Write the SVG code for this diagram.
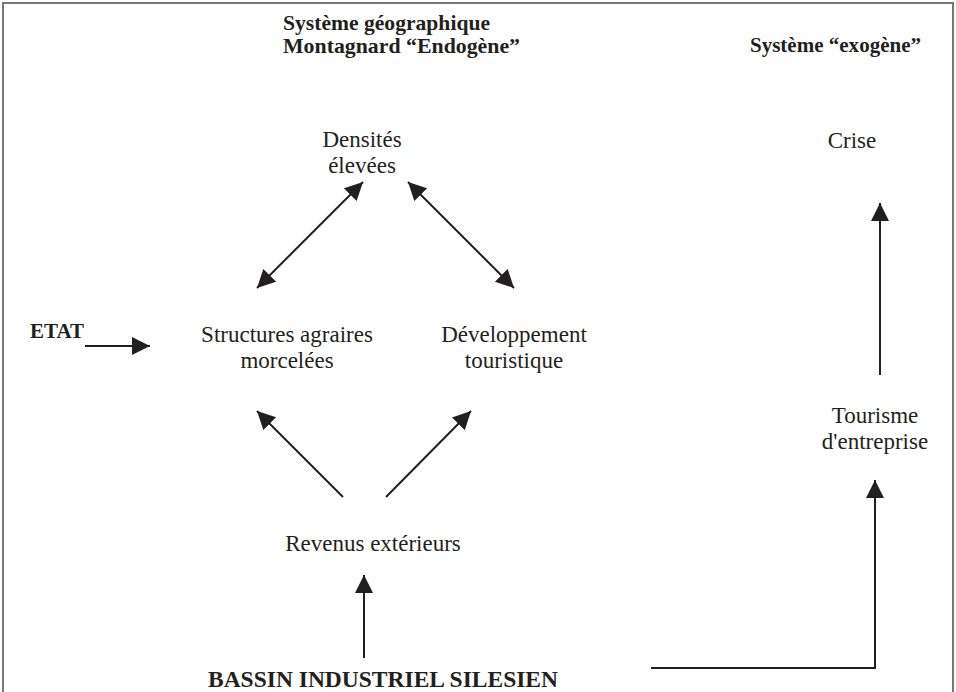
<svg xmlns="http://www.w3.org/2000/svg" width="956" height="692" viewBox="0 0 956 692">
<style>
.t{font-family:"Liberation Serif","Times New Roman",serif;font-size:23px;fill:#231f20;text-anchor:middle}
.b{font-family:"Liberation Serif","Times New Roman",serif;font-weight:bold;fill:#231f20}
.c{stroke:#231f20;stroke-width:2;fill:none}
</style>
<defs>
<marker id="ah" markerUnits="userSpaceOnUse" markerWidth="20" markerHeight="20" refX="18" refY="9" orient="auto-start-reverse">
<path d="M0,0 L18,9 L0,18 Z" fill="#231f20"/>
</marker>
</defs>
<rect x="3" y="3" width="950" height="720" fill="#fff" stroke="#777" stroke-width="2"/>
<g id="titles">
<text class="b" x="283" y="30" font-size="21" textLength="207" lengthAdjust="spacingAndGlyphs">Système géographique</text>
<text class="b" x="283" y="53" font-size="21" textLength="237" lengthAdjust="spacingAndGlyphs">Montagnard “Endogène”</text>
<text class="b" x="750" y="52" font-size="21" textLength="171" lengthAdjust="spacingAndGlyphs">Système “exogène”</text>
</g>
<g id="densites"><text class="t" x="362" y="147">Densités</text><text class="t" x="362" y="173">élevées</text></g>
<g id="crise"><text class="t" x="852" y="148">Crise</text></g>
<g id="etat"><text class="b" x="30" y="338" font-size="21">ETAT</text></g>
<g id="structures"><text class="t" x="287" y="342">Structures agraires</text><text class="t" x="287" y="368">morcelées</text></g>
<g id="developpement"><text class="t" x="514" y="342">Développement</text><text class="t" x="514" y="368">touristique</text></g>
<g id="tourisme"><text class="t" x="875" y="423">Tourisme</text><text class="t" x="875" y="449">d'entreprise</text></g>
<g id="revenus"><text class="t" x="373" y="551">Revenus extérieurs</text></g>
<g id="bassin"><text class="b" x="383" y="687" font-size="23.5" text-anchor="middle">BASSIN INDUSTRIEL SILESIEN</text></g>
<g id="connectors">
<line class="c" x1="363" y1="182" x2="257" y2="288" marker-start="url(#ah)" marker-end="url(#ah)"/>
<line class="c" x1="408" y1="182" x2="514" y2="288" marker-start="url(#ah)" marker-end="url(#ah)"/>
<line class="c" x1="85" y1="346" x2="150" y2="346" marker-end="url(#ah)"/>
<line class="c" x1="343" y1="497" x2="257" y2="411" marker-end="url(#ah)"/>
<line class="c" x1="386" y1="497" x2="471" y2="411" marker-end="url(#ah)"/>
<line class="c" x1="364" y1="658" x2="364" y2="575" marker-end="url(#ah)"/>
<polyline class="c" points="651,668 875,668 875,480" marker-end="url(#ah)"/>
<line class="c" x1="880" y1="375" x2="880" y2="203" marker-end="url(#ah)"/>
</g>
</svg>
